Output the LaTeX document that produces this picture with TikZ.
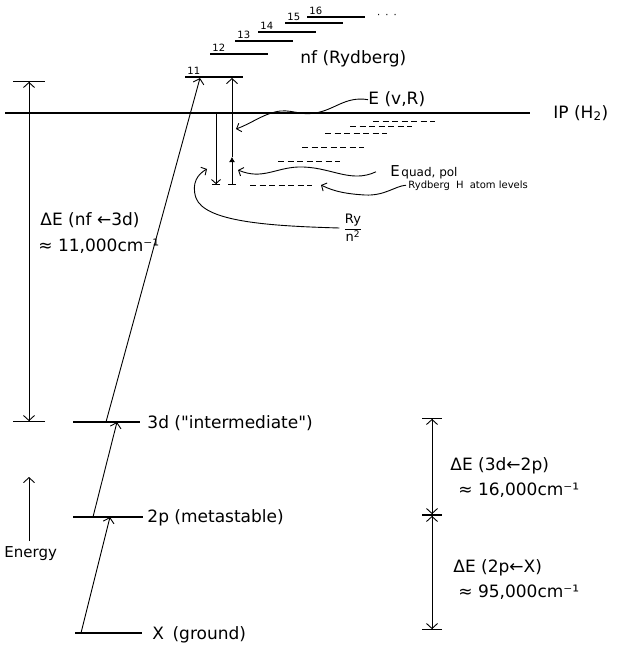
\documentclass[tikz,border=0pt]{standalone}
\usepackage{fontspec}
\setmainfont{DejaVu Sans}[Ligatures=TeXOff]
\usetikzlibrary{arrows.meta}
\newcommand{\fsz}[1]{\fontsize{#1}{#1}\selectfont}

\begin{document}
\begin{tikzpicture}[x=1pt, y=-1pt, line width=0.9pt,
  lvl/.style={line width=1.2pt},
  hlvl/.style={line width=1pt, dash pattern=on 6pt off 3.5pt},
  tip/.style={-{Straight Barb[length=5pt,width=11pt]}},
  ctip/.style={-{Straight Barb[length=4pt,width=9pt]}},
  dbl/.style={{Bar[width=#1]Straight Barb[length=5pt,width=11pt]}-{Straight Barb[length=5pt,width=11pt]Bar[width=#1]}},
  lab/.style={anchor=base west, inner sep=0pt, font=\fsz{17}},
  small/.style={anchor=base west, inner sep=0pt, font=\fsz{10}},
  num/.style={anchor=base west, inner sep=0pt, font=\fsz{10}}]
\useasboundingbox (0,0) rectangle (621,650);

% ionisation limit
\draw[line width=1.1pt] (5,113) coordinate (ipL) -- (530,113) coordinate (ipR);
\node[lab] (ip) at (553,118) {IP (H\textsubscript{2})};

% X, 2p, 3d levels
\draw[lvl] (75,633) coordinate (gL) -- (142,633) coordinate (gR);
\draw[lvl] (73,517) coordinate (mL) -- (143,517) coordinate (mR);
\draw[lvl] (73,422) coordinate (iL) -- (140,422) coordinate (iR);
\node[lab] (gLab) at (152,639) {X\hspace{0.5em}(ground)};
\node[lab] (mLab) at (147,522) {2p (metastable)};
\node[lab] (iLab) at (147,428) {3d ("intermediate")};

% nf Rydberg series, n = 11..16
\foreach \n/\x/\y in {11/185/77, 12/210/54, 13/235/41, 14/258/32, 15/285/23, 16/307/17}{
  \draw[lvl] (\x,\y) coordinate (n\n) -- ++(58,0);
  \node[num] (num\n) at (\x+2,\y-2) {\n};
}
\node[inner sep=0pt, font=\fsz{10}] (dots) at (387,16) {·\hspace{0.5em}·\hspace{0.5em}·};
\node[lab] (nf) at (300,64) {nf (Rydberg)};

% hydrogen atom levels below IP
\foreach \x/\y in {373/122, 350/127, 325/133, 302/147, 278/161, 250/185}
  \draw[hlvl] (\x,\y) -- ++(62,0);

% excitation steps
\coordinate (xa) at (81,633);  \coordinate (pa) at (110,517);
\coordinate (pb) at (93,517);  \coordinate (da) at (117,422);
\coordinate (db) at (106,422); \coordinate (na) at (200,78);
\draw[tip] (xa) -- (pa);
\draw[tip] (pb) -- (da);
\draw[tip] (db) -- (na);

% energy axis
\node[lab, font=\fsz{15}] (en) at (4,557) {Energy};
\coordinate (enTop) at (29,477);
\draw[tip] (29,541) -- (enTop);

% nf <- 3d span
\coordinate (lTop) at (29,81); \coordinate (lBot) at (29,422);
\draw[dbl=32pt] (lTop) -- (lBot);
\node[lab] (dEa) at (40,225) {ΔE (nf ←3d)};
\node[lab] (dEb) at (38,251) {≈ 11,000cm⁻¹};

% 3d <- 2p and 2p <- X spans
\coordinate (rA) at (432,418); \coordinate (rB) at (432,515); \coordinate (rC) at (432,630);
\draw[dbl=20pt] (rA) -- (rB);
\draw[dbl=20pt] (rB) -- (rC);
\node[lab] (dEc) at (450,470) {ΔE (3d←2p)};
\node[lab] (dEd) at (458,495) {≈ 16,000cm⁻¹};
\node[lab] (dEe) at (453,572) {ΔE (2p←X)};
\node[lab] (dEf) at (458,597) {≈ 95,000cm⁻¹};

% Ry/n^2 and quadrupole/polarisation shifts
\coordinate (ryTop) at (216,113); \coordinate (ryBot) at (216,185);
\draw[-{Straight Barb[length=4pt,width=9pt]Bar[width=8pt]}] (ryTop) -- (ryBot);
\coordinate (qBot) at (232,185); \coordinate (qMid) at (232,157); \coordinate (qTop) at (232,78);
\draw[{Bar[width=8pt]}-{Latex[length=5pt,width=6pt]}] (qBot) -- (qMid);
\draw[tip] (qMid) -- (qTop);

% labels with wavy pointers
\node[lab] (evr) at (368,105) {E (v,R)};
\node[anchor=base west, inner sep=0pt] (eqp) at (390,176) {\fsz{15}E\hspace{1.5pt}\fsz{12}quad, pol};
\node[small] (ryd) at (408,188) {Rydberg\hspace{0.3em} H\hspace{0.3em} atom levels};
\node[inner sep=0pt, font=\fsz{13}] (ryn) at (353,228) {$\displaystyle\frac{\mbox{Ry}}{\mbox{n\textsuperscript{2}}}$};
\coordinate (evrTip) at (236,129); \coordinate (eqpTip) at (238,170);
\coordinate (rydTip) at (321,185); \coordinate (rynTip) at (207,169);
\draw[ctip] (evr.west) .. controls (345,96) and (335,110) .. (315,113)
  .. controls (300,116) and (290,108) .. (275,112)
  .. controls (262,115) and (250,124) .. (evrTip);
\draw[ctip] ([xshift=-14pt]eqp.west) .. controls (350,184) and (330,166) .. (298,167)
  .. controls (275,168) and (262,180) .. (eqpTip);
\draw[ctip] ([xshift=-2pt]ryd.west) .. controls (395,186) and (385,196) .. (365,195)
  .. controls (348,194) and (335,192) .. (rydTip);
\draw[ctip] ([xshift=-4pt]ryn.west) .. controls (270,226) and (205,222) .. (196,198)
  .. controls (191,183) and (198,174) .. (rynTip);
\end{tikzpicture}
\end{document}
